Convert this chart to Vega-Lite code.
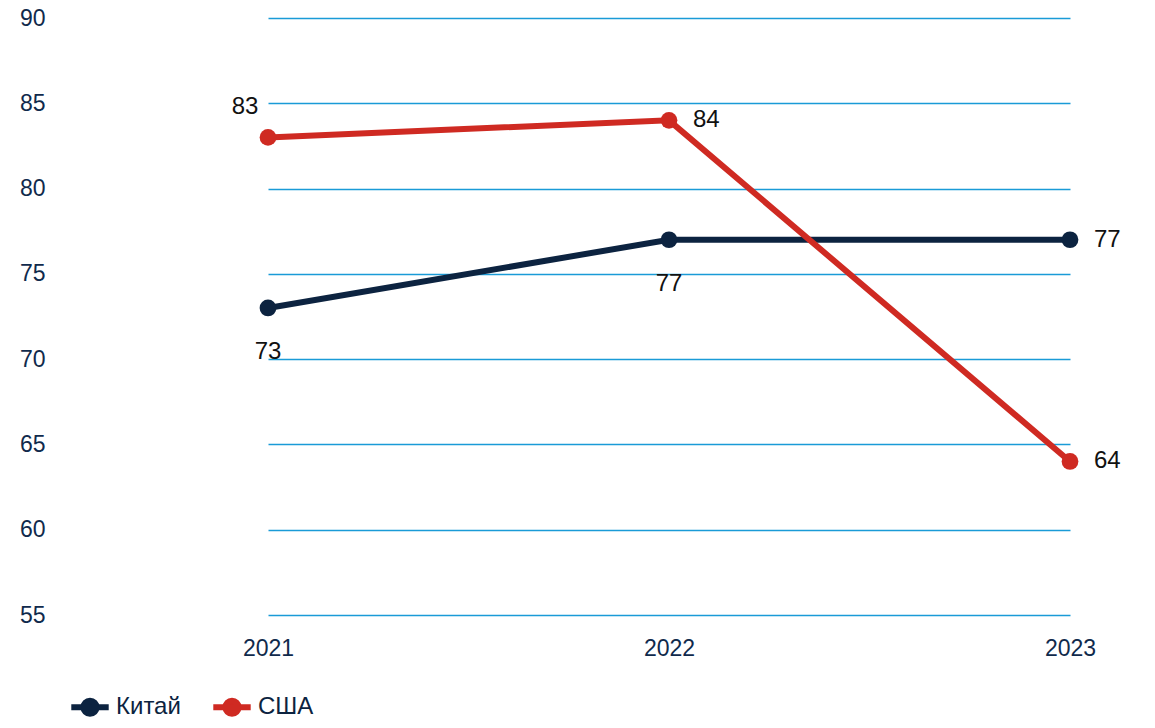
{
"$schema":"https://vega.github.io/schema/vega-lite/v6.json",
"width":1067,"height":597,"autosize":"none",
"padding":{"left":68,"top":18,"right":20,"bottom":113},
"config":{"view":{"stroke":null},"font":"Liberation Sans"},
"data":{"values":[
{"year":"2021","country":"Китай","v":73},
{"year":"2022","country":"Китай","v":77},
{"year":"2023","country":"Китай","v":77},
{"year":"2021","country":"США","v":83},
{"year":"2022","country":"США","v":84},
{"year":"2023","country":"США","v":64}]},
"encoding":{
"x":{"field":"year","type":"ordinal","scale":{"type":"point","padding":0,"range":[200,1002]},
 "axis":{"title":null,"labelAngle":0,"domain":false,"ticks":false,"labelFontSize":23,"labelColor":"#102a4c","labelPadding":22,"grid":false}},
"y":{"field":"v","type":"quantitative","scale":{"domain":[55,90],"nice":false,"zero":false},
 "axis":{"title":null,"values":[55,60,65,70,75,80,85,90],"domain":false,"ticks":false,"labelFontSize":23,"labelColor":"#102a4c","labelPadding":23,"gridColor":"#1a9bd7","gridWidth":1.5}}},
"layer":[
{"mark":{"type":"line","strokeWidth":6,"point":{"size":280,"filled":true}},
 "encoding":{"color":{"field":"country","type":"nominal","scale":{"domain":["Китай","США"],"range":["#0c2340","#cf2a22"]},
  "legend":{"title":null,"orient":"bottom","direction":"horizontal","labelFontSize":24,"labelColor":"#0c2340","symbolType":"M-1,0L1,0M-0.35,0A0.35,0.35 0 1,0 0.35,0A0.35,0.35 0 1,0 -0.35,0Z","symbolSize":1400,"symbolStrokeWidth":6,"symbolFillColor":"transparent","offset":25,"columnPadding":20,"labelOffset":4}}}},
{"transform":[{"filter":"datum.country=='Китай' && datum.year!='2023'"}],
 "mark":{"type":"text","fontSize":24,"dy":44,"color":"#111"},"encoding":{"text":{"field":"v"}}},
{"transform":[{"filter":"(datum.country=='Китай' && datum.year=='2023') || (datum.country=='США' && datum.year!='2021')"}],
 "mark":{"type":"text","fontSize":24,"dx":24,"align":"left","color":"#111"},"encoding":{"text":{"field":"v"}}},
{"transform":[{"filter":"datum.country=='США' && datum.year=='2021'"}],
 "mark":{"type":"text","fontSize":24,"dx":-23,"dy":-30,"color":"#111"},"encoding":{"text":{"field":"v"}}}
]}
